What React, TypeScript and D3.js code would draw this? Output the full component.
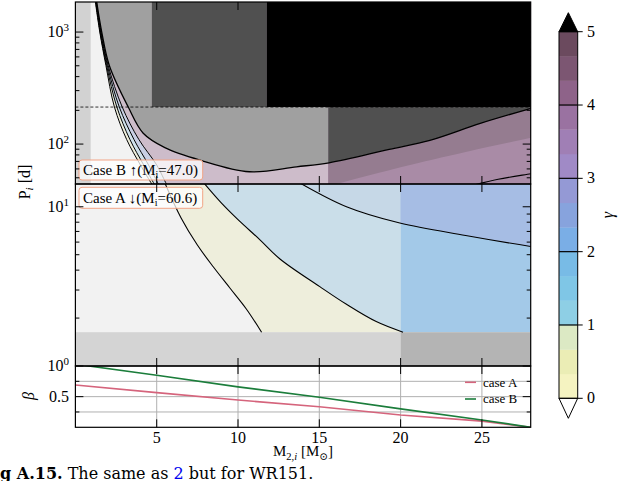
import React from "react";
import * as d3 from "d3";

// ---------- axes ----------
const M_RANGE: [number, number] = [0, 28];
const P_TOP_RANGE: [number, number] = [44, 1855];
const P_MID_RANGE: [number, number] = [1, 13.9];
const BETA_RANGE: [number, number] = [0, 1];
const M_TICKS = [5, 10, 15, 20, 25];
const P_TOP_MAJOR = [100, 1000];
const P_TOP_MINOR = [50, 60, 70, 80, 90, 200, 300, 400, 500, 600, 700, 800, 900];
const P_MID_MAJOR = [1, 10];
const P_MID_MINOR = [2, 3, 4, 5, 6, 7, 8, 9];
const BETA_MAJOR = [0.5];
const BETA_MINOR = [0.25, 0.75];

// ---------- colour scale (gamma) ----------
const GAMMA_TICKS = [0, 1, 2, 3, 4, 5];
const GAMMA_LINES = [1, 2, 3, 4];
const GAMMA_COLORS = [
  "#f5f3c1", "#ebedb5", "#dce9c4",
  "#8ecfe5", "#7fc6e6", "#78bbe6",
  "#7aaee6", "#87a3dd", "#9499d5",
  "#a08ac6", "#a07fb5", "#9a72a1",
  "#8e6389", "#7c5672", "#6b4a5e",
];

// ---------- case B (upper panel): [M2,i, P_i] ----------
const caseBFan: [number, number][][] = [
  [[1.22, 1900], [1.5, 1000], [1.88, 500], [2.4, 214], [3.15, 110], [4.0, 65], [4.7, 44], [4.8, 42]],
  [[1.24, 1900], [1.52, 1000], [1.92, 500], [2.55, 214], [3.35, 110], [4.2, 65], [4.85, 44], [4.95, 42]],
  [[1.26, 1900], [1.55, 1000], [1.97, 500], [2.7, 214], [3.6, 110], [4.5, 65], [5.1, 44], [5.2, 42]],
  [[1.28, 1900], [1.58, 1000], [2.02, 500], [2.88, 214], [3.9, 110], [5.0, 65], [5.6, 44], [5.7, 42]],
];
const caseBEnvelope: [number, number][] = [
  [1.3, 1900], [1.62, 1000], [2.09, 500], [3.25, 214], [4.17, 125], [5.5, 93], [7.66, 72],
  [10.7, 56.6], [13.6, 62.7], [15.6, 68], [19.3, 89.7], [21.8, 108], [24.9, 153], [28, 208], [28.4, 216],
];
const caseBLower: [number, number][] = [[24.2, 42], [26, 48.5], [28, 54.3], [28.4, 55.6]];
const caseBShadeEdge: [number, number][] = [[15, 40], [20, 62], [24, 85], [28.5, 118]];
const P_DASHED = 214;
const STRIP_M = 0.94;
const UPPER_SPLITS = [4.7, 11.76];
const UPPER_SHADES = ["#a0a0a0", "#505050", "#000000"];
const LOWER_SPLIT = 15.55;
const LOWER_SHADES = ["#a0a0a0", "#505050"];

// ---------- case A (middle panel) ----------
const caseA0: [number, number][] = [
  [5.45, 14.5], [6.5, 8.5], [7.5, 5.75], [8.5, 4.17], [9.5, 3.09], [10.5, 2.29], [11.45, 1.63],
];
const caseA1: [number, number][] = [
  [7.8, 14.5], [9, 10.5], [10, 8.3], [11.35, 6.2], [12.58, 4.7], [15.03, 3.15], [16.67, 2.44], [18.5, 1.9], [20.15, 1.63],
];
const caseA2: [number, number][] = [
  [13.6, 14.5], [16.67, 10], [19.95, 7.9], [24, 6.6], [28, 5.63], [28.4, 5.55],
];
const P_MIN_A = 1.63;
const SPLIT_A = 20.0;

// ---------- beta (bottom panel) ----------
const betaM = [0, 5, 10, 15, 20, 25, 28];
const betaCaseA = [0.69, 0.565, 0.445, 0.336, 0.2, 0.1, 0.0];
const betaCaseB = [1.03, 0.85, 0.66, 0.49, 0.3, 0.12, 0.0];

const FONT = "'Liberation Serif', 'DejaVu Serif', serif";
const WIDE_FONT = "'DejaVu Serif', serif";

export default function App() {
  const X0 = 75.4, X1 = 530.7;
  const TOP0 = 2, TOP1 = 184, MID1 = 366, BOT1 = 427.3;
  const x = d3.scaleLinear().domain(M_RANGE).range([X0, X1]);
  const yT = d3.scaleLog().domain(P_TOP_RANGE).range([TOP1, TOP0]);
  const yM = d3.scaleLog().domain(P_MID_RANGE).range([MID1, TOP1]);
  const yB = d3.scaleLinear().domain(BETA_RANGE).range([BOT1, MID1]);

  const curve = d3.curveCatmullRom.alpha(0.5);
  const lineT = d3.line<[number, number]>().x((d) => x(d[0])).y((d) => yT(d[1])).curve(curve);
  const lineM = d3.line<[number, number]>().x((d) => x(d[0])).y((d) => yM(d[1])).curve(curve);

  const band = (ln: any, a: [number, number][], b: [number, number][]) =>
    ln(a) + ln([...b].reverse()).replace(/^M/, "L") + "Z";
  const rightOf = (ln: any, ys: any, c: [number, number][]) => {
    const first = c[0], last = c[c.length - 1];
    return ln(c) + `L${X1 + 10},${ys(last[1])}L${X1 + 10},${ys(first[1])}Z`;
  };

  const rT = (m0: number, m1: number, p0: number, p1: number) => ({
    x: x(m0), y: yT(p1), width: x(m1) - x(m0), height: yT(p0) - yT(p1),
  });
  const rM = (m0: number, m1: number, p0: number, p1: number) => ({
    x: x(m0), y: yM(p1), width: x(m1) - x(m0), height: yM(p0) - yM(p1),
  });

  const fanOuter = caseBFan[caseBFan.length - 1];
  const aboveEnvelope = lineT(caseBEnvelope) + `L${X1 + 10},${yT(2000)}L${x(caseBEnvelope[0][0])},${yT(2000)}Z`;
  const fanFills = ["#eeeedc", "#cfe0ea", "#c8cfe4"];

  const betaLine = (vals: number[]) =>
    d3.line<number>().x((_, i) => x(betaM[i])).y((d) => yB(d))(vals) as string;

  // colorbar
  const CB_X = 559, CB_W = 18.7, CB_TOP = 31.7, CB_BOT = 398.3;
  const yC = d3.scaleLinear().domain([0, 5]).range([CB_BOT, CB_TOP]);
  const step = 5 / GAMMA_COLORS.length;

  const tickMajor = 8, tickMinor = 4;
  const vTicks = (y0: number, dir: number, keyp: string) =>
    M_TICKS.map((m) => (
      <line key={keyp + m} x1={x(m)} x2={x(m)} y1={y0} y2={y0 + dir * tickMajor} stroke="#000" strokeWidth={1} />
    ));
  const hTicks = (vals: number[], ys: any, len: number, keyp: string) =>
    vals.map((v) => (
      <g key={keyp + v}>
        <line x1={X0} x2={X0 + len} y1={ys(v)} y2={ys(v)} stroke="#000" strokeWidth={1} />
        <line x1={X1} x2={X1 - len} y1={ys(v)} y2={ys(v)} stroke="#000" strokeWidth={1} />
      </g>
    ));

  const pow10 = (e: string, y: number, key: string) => (
    <text key={key} x={69} y={y + 5} textAnchor="end" fontSize={16} fontFamily={FONT}>
      10<tspan dy={-6} fontSize={11}>{e}</tspan>
    </text>
  );

  return (
    <svg width={644} height={481} style={{ position: "absolute", left: 0, top: 0, background: "#fff" }}>
      <defs>
        <clipPath id="clipTop"><rect x={X0} y={TOP0} width={X1 - X0} height={TOP1 - TOP0} /></clipPath>
        <clipPath id="clipMid"><rect x={X0} y={TOP1} width={X1 - X0} height={MID1 - TOP1} /></clipPath>
        <clipPath id="clipBot"><rect x={X0} y={MID1} width={X1 - X0} height={BOT1 - MID1} /></clipPath>
        <clipPath id="aboveEnv"><path d={aboveEnvelope} /></clipPath>
        <clipPath id="midRight"><rect x={x(SPLIT_A)} y={TOP1} width={X1 - x(SPLIT_A)} height={yM(P_MIN_A) - TOP1} /></clipPath>
        <clipPath id="topRight"><rect x={x(LOWER_SPLIT)} y={TOP0} width={X1 - x(LOWER_SPLIT)} height={TOP1 - TOP0} /></clipPath>
      </defs>

      {/* ---------- case B panel ---------- */}
      <g clipPath="url(#clipTop)">
        <rect x={X0} y={TOP0} width={X1 - X0} height={TOP1 - TOP0} fill="#f2f2f2" />
        <path d={rightOf(lineT, yT, fanOuter)} fill="#cdbcca" />
        <rect {...rT(LOWER_SPLIT, 28.5, 40, 2000)} fill="#a98ba6" />
        <g clipPath="url(#topRight)">
          <path d={band(lineT, caseBEnvelope, caseBShadeEdge)} fill="#957c90" />
        </g>
        {caseBFan.slice(0, -1).map((f, i) => (
          <path key={"ff" + i} d={band(lineT, f, caseBFan[i + 1])} fill={fanFills[i]} />
        ))}
        <g clipPath="url(#aboveEnv)">
          <rect {...rT(0, UPPER_SPLITS[0], P_DASHED, 2000)} fill={UPPER_SHADES[0]} />
          <rect {...rT(UPPER_SPLITS[0], UPPER_SPLITS[1], P_DASHED, 2000)} fill={UPPER_SHADES[1]} />
          <rect {...rT(UPPER_SPLITS[1], 28.5, P_DASHED, 2000)} fill={UPPER_SHADES[2]} />
          <rect {...rT(0, LOWER_SPLIT, 40, P_DASHED)} fill={LOWER_SHADES[0]} />
          <rect {...rT(LOWER_SPLIT, 28.5, 40, P_DASHED)} fill={LOWER_SHADES[1]} />
        </g>
        <rect {...rT(0, STRIP_M, 40, 2000)} fill="#d2d2d2" />
        <line x1={X0} x2={X1} y1={yT(P_DASHED)} y2={yT(P_DASHED)} stroke="#000" strokeWidth={0.8} strokeDasharray="3,2" />
        {caseBFan.map((f, i) => (
          <path key={"fl" + i} d={lineT(f) as string} fill="none" stroke="#000" strokeWidth={1} />
        ))}
        <path d={lineT(caseBEnvelope) as string} fill="none" stroke="#000" strokeWidth={1.3} />
        <path d={lineT(caseBLower) as string} fill="none" stroke="#000" strokeWidth={1.1} />
      </g>

      {/* ---------- case A panel ---------- */}
      <g clipPath="url(#clipMid)">
        <rect x={X0} y={TOP1} width={X1 - X0} height={MID1 - TOP1} fill="#f2f2f2" />
        <path d={rightOf(lineM, yM, caseA0)} fill="#eeeedc" />
        <path d={rightOf(lineM, yM, caseA1)} fill="#cadee9" />
        <path d={rightOf(lineM, yM, caseA2)} fill="#c6d8e7" />
        <g clipPath="url(#midRight)">
          <rect {...rM(SPLIT_A, 28.5, P_MIN_A, 15)} fill="#a3c9e8" />
          <path d={rightOf(lineM, yM, caseA2)} fill="#a6bde4" />
        </g>
        <rect {...rM(0, SPLIT_A, 0.9, P_MIN_A)} fill="#d4d4d4" />
        <rect {...rM(SPLIT_A, 28.5, 0.9, P_MIN_A)} fill="#b4b4b4" />
        {[caseA0, caseA1, caseA2].map((c, i) => (
          <path key={"al" + i} d={lineM(c) as string} fill="none" stroke="#000" strokeWidth={1.1} />
        ))}
      </g>

      {/* ---------- beta panel ---------- */}
      <g clipPath="url(#clipBot)">
        {M_TICKS.map((m) => (
          <line key={"gv" + m} x1={x(m)} x2={x(m)} y1={MID1} y2={BOT1} stroke="#b0b0b0" strokeWidth={1} />
        ))}
        {[0.25, 0.5, 0.75].map((b) => (
          <line key={"gh" + b} x1={X0} x2={X1} y1={yB(b)} y2={yB(b)} stroke="#b0b0b0" strokeWidth={1} />
        ))}
        <path d={betaLine(betaCaseA)} fill="none" stroke="#d5647c" strokeWidth={1.6} />
        <path d={betaLine(betaCaseB)} fill="none" stroke="#1b7d3b" strokeWidth={1.6} />
      </g>
      <line x1={465} x2={476} y1={382.3} y2={382.3} stroke="#d5647c" strokeWidth={1.6} />
      <line x1={465} x2={476} y1={399} y2={399} stroke="#1b7d3b" strokeWidth={1.6} />
      <text x={483} y={386.5} fontSize={13} fontFamily={FONT}>case A</text>
      <text x={483} y={403.2} fontSize={13} fontFamily={FONT}>case B</text>

      {/* ---------- labels in panels ---------- */}
      <rect x={79} y={160} width={123.7} height={20} rx={3} fill="#fff" fillOpacity={0.75} stroke="#f2a486" strokeWidth={1} />
      <text x={83} y={175} fontSize={15} fontFamily={FONT}>
        Case B ↑(M<tspan dy={3} fontSize={10}>i</tspan><tspan dy={-3}>=47.0)</tspan>
      </text>
      <rect x={79} y={187.3} width={123.7} height={21} rx={3} fill="#fff" fillOpacity={0.75} stroke="#f2a486" strokeWidth={1} />
      <text x={83} y={203} fontSize={15} fontFamily={FONT}>
        Case A ↓(M<tspan dy={3} fontSize={10}>i</tspan><tspan dy={-3}>=60.6)</tspan>
      </text>

      {/* ---------- frames and ticks ---------- */}
      {[[TOP0, TOP1], [TOP1, MID1], [MID1, BOT1]].map(([a, b], i) => (
        <rect key={"fr" + i} x={X0} y={a} width={X1 - X0} height={b - a} fill="none" stroke="#000" strokeWidth={1.2} />
      ))}
      {vTicks(TOP0, 1, "t0")}
      {vTicks(TOP1, -1, "t1")}
      {vTicks(TOP1, 1, "m0")}
      {vTicks(MID1, -1, "m1")}
      {vTicks(MID1, 1, "b0")}
      {vTicks(BOT1, -1, "b1")}
      {hTicks(P_TOP_MAJOR, yT, tickMajor, "ptM")}
      {hTicks(P_TOP_MINOR, yT, tickMinor, "ptm")}
      {hTicks(P_MID_MAJOR, yM, tickMajor, "pmM")}
      {hTicks(P_MID_MINOR, yM, tickMinor, "pmm")}
      {hTicks(BETA_MAJOR, yB, tickMajor, "bM")}
      {hTicks(BETA_MINOR, yB, tickMinor, "bm")}

      {pow10("3", yT(1000), "l3")}
      {pow10("2", yT(100), "l2")}
      {pow10("1", yM(10), "l1")}
      {pow10("0", yM(1), "l0")}
      {BETA_MAJOR.map((b) => (
        <text key={"bl" + b} x={69} y={yB(b) + 5} textAnchor="end" fontSize={16} fontFamily={FONT}>{b}</text>
      ))}
      {M_TICKS.map((m) => (
        <text key={"xl" + m} x={x(m)} y={443} textAnchor="middle" fontSize={16} fontFamily={FONT}>{m}</text>
      ))}

      <text x={(X0 + X1) / 2} y={456} textAnchor="middle" fontSize={15} fontFamily={FONT}>
        M<tspan dy={3.5} fontSize={10.5}>2,</tspan><tspan fontSize={10.5} fontStyle="italic">i</tspan>
        <tspan dy={-3.5}> [M</tspan><tspan dy={3.5} fontSize={10.5}>⊙</tspan><tspan dy={-3.5}>]</tspan>
      </text>
      <text transform="translate(30,182) rotate(-90)" textAnchor="middle" fontSize={16} fontFamily={FONT}>
        P<tspan dy={3} fontSize={11} fontStyle="italic">i</tspan><tspan dy={-3}> [d]</tspan>
      </text>
      <text transform="translate(34,396) rotate(-90)" textAnchor="middle" fontSize={16} fontFamily={FONT} fontStyle="italic">β</text>

      {/* ---------- colour bar ---------- */}
      {GAMMA_COLORS.map((c, i) => (
        <rect key={"cb" + i} x={CB_X} y={yC((i + 1) * step)} width={CB_W} height={yC(i * step) - yC((i + 1) * step) + 0.3} fill={c} />
      ))}
      <path d={`M${CB_X},${CB_TOP}L${CB_X + CB_W / 2},${12.7}L${CB_X + CB_W},${CB_TOP}Z`} fill="#000" stroke="#000" strokeWidth={1} />
      <path d={`M${CB_X},${CB_BOT}L${CB_X + CB_W / 2},${418.3}L${CB_X + CB_W},${CB_BOT}Z`} fill="#fff" stroke="#000" strokeWidth={1} />
      <rect x={CB_X} y={CB_TOP} width={CB_W} height={CB_BOT - CB_TOP} fill="none" stroke="#000" strokeWidth={1} />
      {GAMMA_LINES.map((g) => (
        <line key={"cl" + g} x1={CB_X} x2={CB_X + CB_W} y1={yC(g)} y2={yC(g)} stroke="#000" strokeWidth={1.2} />
      ))}
      {GAMMA_TICKS.map((g) => (
        <g key={"ct" + g}>
          <line x1={CB_X + CB_W} x2={CB_X + CB_W + 5} y1={yC(g)} y2={yC(g)} stroke="#000" strokeWidth={1} />
          <text x={587} y={yC(g) + 5} fontSize={16} fontFamily={FONT}>{g}</text>
        </g>
      ))}
      <text transform="translate(613,215) rotate(-90)" textAnchor="middle" fontSize={16} fontFamily={FONT} fontStyle="italic">γ</text>

      {/* ---------- caption ---------- */}
      <text x={0} y={478.5} fontSize={16} fontFamily={WIDE_FONT}>
        <tspan fontWeight="bold">g A.15.</tspan> The same as <tspan fill="#0000ee">2</tspan> but for WR151.
      </text>
    </svg>
  );
}
